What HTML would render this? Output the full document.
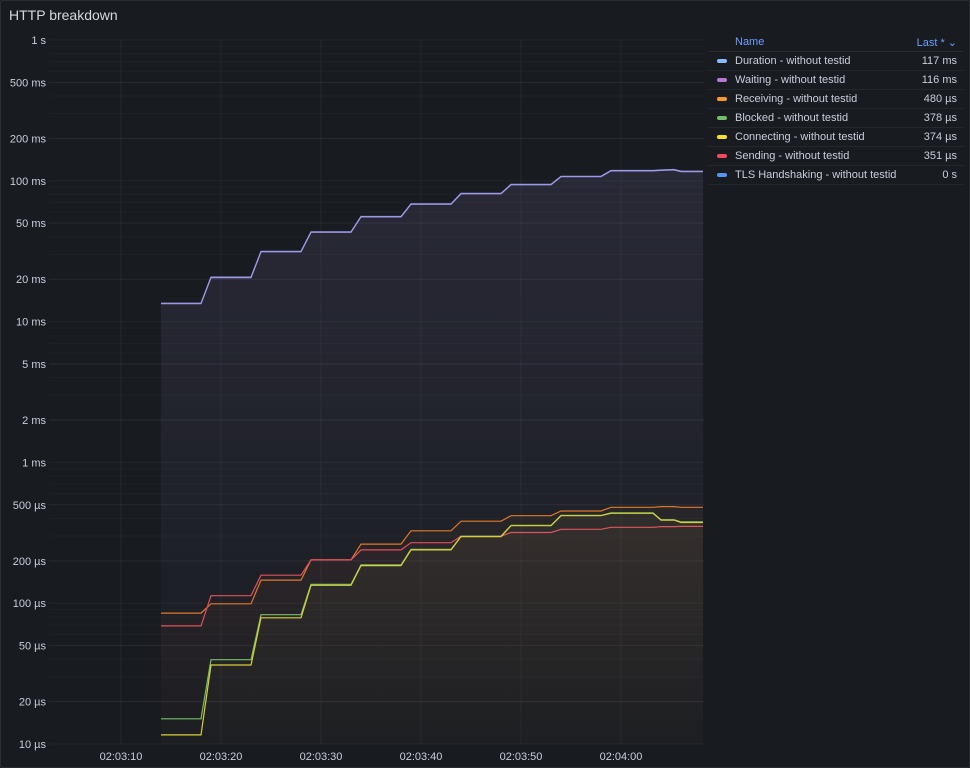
<!DOCTYPE html>
<html><head><meta charset="utf-8"><style>
html,body{margin:0;padding:0;background:#111217;}
#panel{position:absolute;left:0;top:0;width:968px;height:766px;background:#181b1f;border:1px solid #2a2d33;border-radius:2px;font-family:"Liberation Sans",sans-serif;color:#ccccdc;overflow:hidden;}
#title{position:absolute;left:8px;top:6px;font-size:14px;color:#d8d9e0;}
svg text{font-family:"Liberation Sans",sans-serif;}
#legend{position:absolute;left:708px;top:32px;width:254px;font-size:11px;}
.lh{height:18px;display:flex;align-items:center;color:#6e9fff;border-bottom:1px solid #2a2d33;}
.row{height:18px;display:flex;align-items:center;border-bottom:1px solid #24272d;color:#ccccdc;}
.sw{width:10px;height:4px;border-radius:2px;margin:0 8px 0 8px;}
.nm{flex:1;}
.val{padding-right:6px;text-align:right;}
</style></head><body>
<div id="panel">
<div id="title">HTTP breakdown</div>
<svg id="chart" width="705" height="766" style="position:absolute;left:0;top:0"></svg>
<div id="legend">
 <div class="lh"><span style="width:26px"></span><span class="nm">Name</span><span class="val">Last * ⌄</span></div>
 <div class="row"><span class="sw" style="background:#8ab8ff"></span><span class="nm">Duration - without testid</span><span class="val">117 ms</span></div>
 <div class="row"><span class="sw" style="background:#b877d9"></span><span class="nm">Waiting - without testid</span><span class="val">116 ms</span></div>
 <div class="row"><span class="sw" style="background:#ff9830"></span><span class="nm">Receiving - without testid</span><span class="val">480 µs</span></div>
 <div class="row"><span class="sw" style="background:#73bf69"></span><span class="nm">Blocked - without testid</span><span class="val">378 µs</span></div>
 <div class="row"><span class="sw" style="background:#fade2a"></span><span class="nm">Connecting - without testid</span><span class="val">374 µs</span></div>
 <div class="row"><span class="sw" style="background:#f2495c"></span><span class="nm">Sending - without testid</span><span class="val">351 µs</span></div>
 <div class="row"><span class="sw" style="background:#5794f2"></span><span class="nm">TLS Handshaking - without testid</span><span class="val">0 s</span></div>
</div>
</div>
<script>
// times: seconds after 02:03:00
const times = [14, 18, 19, 23, 24, 28, 29, 33, 34, 38, 39, 43, 44, 48, 49, 53, 54, 58, 59, 63.2, 64, 65.3, 66, 68.2];
// values in microseconds
const waiting   = [13400,13400,20500,20500,31300,31300,43100,43100,55400,55400,68100,68100,80900,80900,93700,93700,107000,107000,117600,117600,118500,119500,116000,116000];
const duration  = [13500,13500,20700,20700,31500,31500,43400,43400,55800,55800,68500,68500,81400,81400,94300,94300,107700,107700,118400,118400,119300,120300,117000,117000];
const receiving = [85,85,99,99,146,146,203,203,263,263,327,327,382,382,418,418,452,452,480,480,485,485,480,480];
const sending   = [69,69,113,113,158,158,203,203,239,239,269,269,299,299,318,318,335,335,346,346,350,350,351,351];
const connecting= [11.6,11.6,36.4,36.4,78.8,78.8,134,134,185,185,239,239,297,297,355,355,418,418,435,435,389,389,374,374];
const blocked   = [15.1,15.1,39.7,39.7,82.8,82.8,136,136,187,187,241,241,299,299,357,357,420,420,438,438,392,392,378,378];
const yTickVals = [1e6,5e5,2e5,1e5,5e4,2e4,1e4,5e3,2e3,1e3,500,200,100,50,20,10];
const yTickLabels = ["1 s","500 ms","200 ms","100 ms","50 ms","20 ms","10 ms","5 ms","2 ms","1 ms","500 µs","200 µs","100 µs","50 µs","20 µs","10 µs"];
const xTickVals = [10,20,30,40,50,60];
const xTickLabels = ["02:03:10","02:03:20","02:03:30","02:03:40","02:03:50","02:04:00"];

const NS='http://www.w3.org/2000/svg';
const svg=document.getElementById('chart');
const PL=48, PR=703, PT=39, PB=743;
const yS=v=>PB-(Math.log10(v)-1)*(PB-PT)/5;
const xS=t=>160+(t-14)*10;
function mk(tag,attrs,parent){const e=document.createElementNS(NS,tag);for(const k in attrs)e.setAttribute(k,attrs[k]);(parent||svg).appendChild(e);return e;}

const defs=mk('defs',{});
for(let d=1;d<6;d++){for(let m=2;m<10;m++){const v=Math.pow(10,d)*m;const y=yS(v);
 const g=mk('line',{x1:PL,x2:PR,y1:y,y2:y,stroke:'#ccccdc',"stroke-opacity":0.035});
 
 }}
yTickVals.forEach((v,i)=>{const y=yS(v);
 const g=mk('line',{x1:PL,x2:PR,y1:y,y2:y,stroke:'#ccccdc',"stroke-opacity":0.06});
 
 
 const t=mk('text',{x:45,y:y+4,"text-anchor":"end","font-size":11,fill:'#ccccdc'});
 t.textContent=yTickLabels[i];
 
 });
xTickVals.forEach((v,i)=>{const x=xS(v);
 const g=mk('line',{x1:x,x2:x,y1:PT,y2:PB,stroke:'#ccccdc',"stroke-opacity":0.06});
 
 
 const t=mk('text',{x:x,y:759,"text-anchor":"middle","font-size":11,fill:'#ccccdc'});
 t.textContent=xTickLabels[i];
 
 });

const series=[
 ['waiting',waiting,'#a68fe0',0.09],['duration',duration,'#9a9be8',0.03],
 ['receiving',receiving,'#e0782a',0.05],['sending',sending,'#e0505e',0.03],
 ['blocked',blocked,'#73bf69',0.02],['connecting',connecting,'#d8cf3a',0.03]];
series.forEach(([name,vals,col,op],si)=>{
 const gid='g'+si;
 const lg=mk('linearGradient',{id:gid,x1:0,y1:0,x2:0,y2:1},defs);
 mk('stop',{offset:'0%','stop-color':col,'stop-opacity':op},lg);
 mk('stop',{offset:'100%','stop-color':col,'stop-opacity':0.005},lg);
 const pts=times.map((t,i)=>xS(t).toFixed(1)+','+yS(vals[i]).toFixed(1));
 const area=mk('path',{d:'M'+xS(times[0])+','+PB+' L'+pts.join(' L')+' L'+xS(times[times.length-1])+','+PB+' Z',fill:'url(#'+gid+')'});
 
 
 const line=mk('path',{d:'M'+pts.join(' L'),fill:'none',stroke:col,'stroke-width':1.2});
 
 
});
</script>
</body></html>
